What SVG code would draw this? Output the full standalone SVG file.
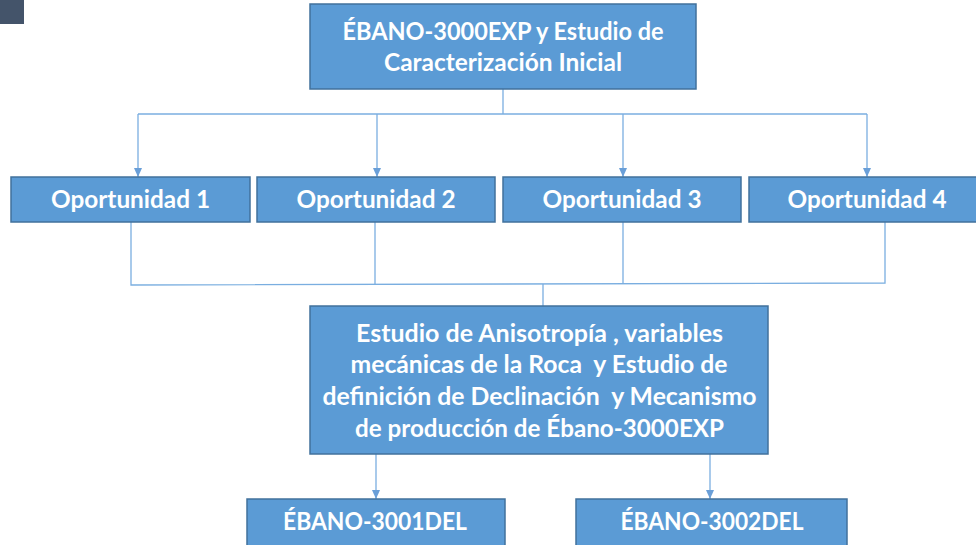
<svg xmlns="http://www.w3.org/2000/svg" width="976" height="545" viewBox="0 0 976 545">
<style>
.box{fill:#5B9BD5;stroke:#41719C;stroke-width:1.5}
.t{font-family:Lato,"Open Sans","Liberation Sans",sans-serif;font-weight:bold;font-size:25px;fill:#FFFFFF;text-anchor:middle;white-space:pre}
.c{fill:none;stroke:#7AAEE0;stroke-width:1.3}
</style>
<defs>
<marker id="ah" markerWidth="10" markerHeight="8" refX="9" refY="4" orient="auto" markerUnits="userSpaceOnUse">
<path d="M0,0 L9,4 L0,8 Z" fill="#6A9FD8"/>
</marker>
</defs>
<rect x="0" y="0" width="24" height="24" fill="#44546A"/>
<g id="connectors">
<path class="c" d="M503,89 V114"/>
<path class="c" d="M138,114 H867"/>
<path class="c" d="M138,114 V177" marker-end="url(#ah)"/>
<path class="c" d="M377,114 V177" marker-end="url(#ah)"/>
<path class="c" d="M623,114 V177" marker-end="url(#ah)"/>
<path class="c" d="M867,114 V177" marker-end="url(#ah)"/>
<path class="c" d="M131,222 V285 L885,283 V222"/>
<path class="c" d="M375,222 V285"/>
<path class="c" d="M623,222 V284"/>
<path class="c" d="M543,284 V306"/>
<path class="c" d="M376,454 V499" marker-end="url(#ah)"/>
<path class="c" d="M710,454 V499" marker-end="url(#ah)"/>
</g>
<g id="top">
<rect class="box" x="310" y="4" width="386" height="85"/>
<text class="t" x="503" y="40" textLength="321" lengthAdjust="spacingAndGlyphs">ÉBANO-3000EXP y Estudio de</text>
<text class="t" x="503" y="71" textLength="238" lengthAdjust="spacingAndGlyphs">Caracterización Inicial</text>
</g>
<g id="op1">
<rect class="box" x="11" y="177" width="239" height="45"/>
<text class="t" x="130.5" y="208" textLength="159" lengthAdjust="spacingAndGlyphs">Oportunidad 1</text>
</g>
<g id="op2">
<rect class="box" x="257" y="177" width="238" height="45"/>
<text class="t" x="376" y="208" textLength="159" lengthAdjust="spacingAndGlyphs">Oportunidad 2</text>
</g>
<g id="op3">
<rect class="box" x="503" y="177" width="238" height="45"/>
<text class="t" x="622" y="208" textLength="159" lengthAdjust="spacingAndGlyphs">Oportunidad 3</text>
</g>
<g id="op4">
<rect class="box" x="749" y="177" width="230" height="45"/>
<text class="t" x="867" y="208" textLength="159" lengthAdjust="spacingAndGlyphs">Oportunidad 4</text>
</g>
<g id="estudio">
<rect class="box" x="310" y="306" width="458" height="148"/>
<text class="t" x="539.5" y="342" textLength="367" lengthAdjust="spacingAndGlyphs">Estudio de Anisotropía , variables</text>
<text class="t" x="539" y="373" textLength="377" lengthAdjust="spacingAndGlyphs">mecánicas de la Roca  y Estudio de</text>
<text class="t" x="539.5" y="405" textLength="434" lengthAdjust="spacingAndGlyphs">definición de Declinación  y Mecanismo</text>
<text class="t" x="539.5" y="437" textLength="369" lengthAdjust="spacingAndGlyphs">de producción de Ébano-3000EXP</text>
</g>
<g id="d3001">
<rect class="box" x="247" y="499" width="258" height="50"/>
<text class="t" x="375" y="530" textLength="184" lengthAdjust="spacingAndGlyphs">ÉBANO-3001DEL</text>
</g>
<g id="d3002">
<rect class="box" x="576" y="499" width="271" height="50"/>
<text class="t" x="712" y="530" textLength="183" lengthAdjust="spacingAndGlyphs">ÉBANO-3002DEL</text>
</g>
</svg>
